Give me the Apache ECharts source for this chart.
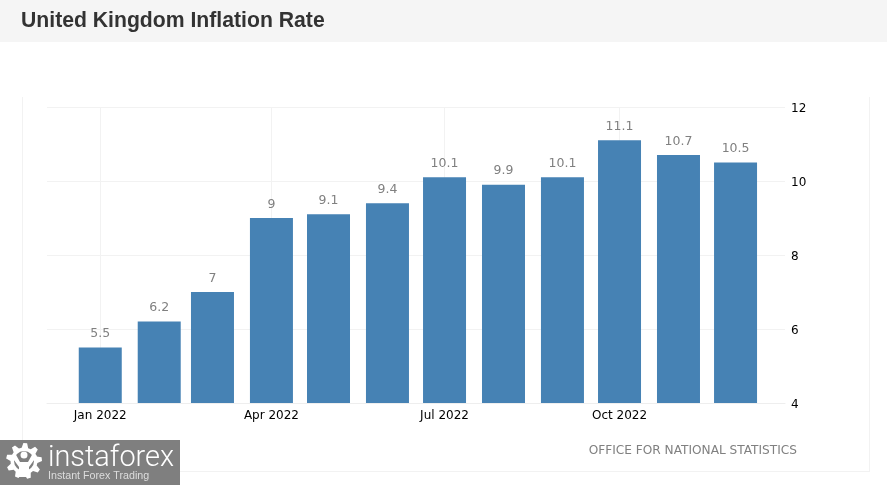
<!DOCTYPE html>
<html><head><meta charset="utf-8">
<style>html,body{margin:0;padding:0;background:#fff}#c{width:887px;height:485px}</style>
<script src="https://cdn.jsdelivr.net/npm/echarts@6/dist/echarts.min.js"></script>
</head><body><div id="c"></div>
<script>
const months = ['2022-01-01','2022-02-01','2022-03-01','2022-04-01','2022-05-01','2022-06-01','2022-07-01','2022-08-01','2022-09-01','2022-10-01','2022-11-01','2022-12-01'];
const values = [5.5,6.2,7,9,9.1,9.4,10.1,9.9,10.1,11.1,10.7,10.5];
const xTicks = ['2022-01-01','2022-04-01','2022-07-01','2022-10-01'];
const titleText = 'United Kingdom Inflation Rate';
const sourceText = 'OFFICE FOR NATIONAL STATISTICS';
const MON = ['Jan','Feb','Mar','Apr','May','Jun','Jul','Aug','Sep','Oct','Nov','Dec'];
const FONT = '"DejaVu Sans"';
const ts = s => Date.parse(s + 'T00:00:00Z');

// logo gear outline
function gearPoints(cx,cy,r1,r2,n){
  const pts=[];
  for(let i=0;i<n;i++){
    const a=i/n*2*Math.PI, w=2*Math.PI/n;
    [[r1,-0.5],[r2,-0.3],[r2,0.0],[r1,0.2]].forEach(([r,o])=>{
      pts.push([cx+r*Math.cos(a+o*w),cy+r*Math.sin(a+o*w)]);
    });
  }
  return pts;
}

const chart = echarts.init(document.getElementById('c'), null, {renderer:'canvas'});
chart.setOption({
  animation:false,
  backgroundColor:'#fff',
  grid:{left:47,right:102,top:107,bottom:82},
  xAxis:{
    type:'value',
    min:ts('2021-12-04'),
    max:ts('2022-12-27'),
    axisLine:{show:true,lineStyle:{color:'#eeeeee',width:1}},
    axisTick:{show:false,customValues:xTicks.map(ts)},
    splitLine:{show:true,lineStyle:{color:'#f2f2f2',width:1}},
    axisLabel:{
      customValues:xTicks.map(ts),
      hideOverlap:false,showMinLabel:true,showMaxLabel:true,
      color:'#000',fontFamily:FONT,fontSize:12,margin:7,
      formatter:v=>{const d=new Date(v);return MON[d.getUTCMonth()]+' '+d.getUTCFullYear();}
    }
  },
  yAxis:{
    type:'value',position:'right',min:4,max:12,interval:2,
    axisLine:{show:false},axisTick:{show:false},
    splitLine:{show:true,lineStyle:{color:'#f2f2f2',width:1}},
    axisLabel:{color:'#000',fontFamily:FONT,fontSize:12,margin:6,verticalAlign:'top',lineHeight:3}
  },
  series:[{
    type:'bar',
    barWidth:43,
    data:months.map((m,i)=>[ts(m),values[i]]),
    itemStyle:{color:'#4682b4'},
    label:{show:true,position:'top',distance:7,color:'#808080',fontFamily:FONT,fontSize:12.5,
      formatter:p=>String(p.value[1])}
  }],
  graphic:[
    {type:'rect',silent:true,z:-1,shape:{x:0,y:0,width:887,height:42},style:{fill:'#f5f5f5'}},
    {type:'text',silent:true,style:{x:21,y:21,text:titleText,fill:'#333333',font:'bold 21.2px "Liberation Sans"',textVerticalAlign:'middle'}},
    {type:'line',silent:true,shape:{x1:22.5,y1:97,x2:22.5,y2:471.5},style:{stroke:'#f2f2f2',lineWidth:1}},
    {type:'line',silent:true,shape:{x1:869.5,y1:97,x2:869.5,y2:471.5},style:{stroke:'#f2f2f2',lineWidth:1}},
    {type:'line',silent:true,shape:{x1:22,y1:471.5,x2:870,y2:471.5},style:{stroke:'#f2f2f2',lineWidth:1}},
    {type:'text',silent:true,style:{x:797,y:451,text:sourceText,fill:'#808080',font:'12.15px '+FONT,textAlign:'right',textVerticalAlign:'middle'}},
    {type:'rect',silent:true,z:10,shape:{x:0,y:440,width:180,height:45},style:{fill:'#7f7f7f'}},
    {type:'polygon',silent:true,z:11,shape:{points:gearPoints(24,461,13.5,18,9)},style:{fill:'#fff'}},
    {type:'circle',silent:true,z:12,shape:{cx:24,cy:461,r:10},style:{fill:'#7f7f7f'}},
    {type:'circle',silent:true,z:13,shape:{cx:24,cy:455,r:3.5},style:{fill:'#fff'}},
    {type:'polygon',silent:true,z:13,shape:{points:[[11,456],[15,453],[20,462],[28,462],[33,453],[37,456],[29,467],[29,477],[19,477],[19,467]]},style:{fill:'#fff'}},
    {type:'text',silent:true,z:11,style:{x:48,y:459,text:'instaforex',fill:'#fff',font:'300 28.9px Roboto',textVerticalAlign:'middle'}},
    {type:'text',silent:true,z:11,style:{x:48,y:476,text:'Instant Forex Trading',fill:'#dddddd',font:'10.7px "Liberation Sans"',textVerticalAlign:'middle'}}
  ]
});
</script></body></html>
